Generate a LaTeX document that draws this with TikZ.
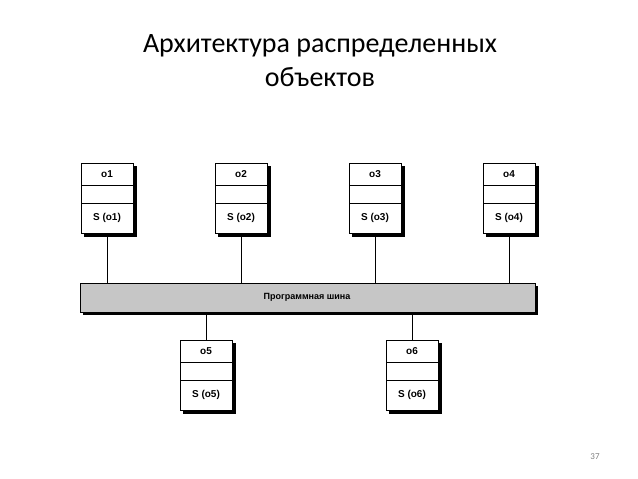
\documentclass[tikz,border=0pt]{standalone}
\usepackage{fontspec}
\setmainfont{Carlito}
\newfontfamily\lab{Liberation Sans}
\begin{document}
\begin{tikzpicture}[x=1pt,y=-1pt,
  obox/.style={draw,line width=1pt,fill=white,minimum width=52pt,minimum height=70pt,inner sep=0pt},
  conn/.style={line width=0.8pt}]
\useasboundingbox (0,0) rectangle (638,479);
\node[font=\fontsize{28}{34}\selectfont,align=center] (title) at (320,61) {Архитектура распределенных\\объектов};
\node[font=\fontsize{9}{10}\selectfont,text=gray] (pn) at (595,457) {37};
% bus
\fill[black] (83,286) rectangle (538,315);
\node[draw,line width=1pt,fill=gray!45,minimum width=455pt,minimum height=29pt,inner sep=0pt] (bus) at (307.5,297.5) {};
\node[font=\lab\bfseries\fontsize{9}{10}\selectfont] (buslab) at (307,297) {Программная шина};
\foreach \n/\x/\y in {1/107/198,2/241/198,3/375/198,4/509/198,5/206/375,6/412/375}{
  \fill[black] (\x-23,\y-32) rectangle (\x+30,\y+39);
  \node[obox] (o\n) at (\x,\y) {};
  \draw[line width=0.8pt] (\x-26,\y-13) -- (\x+26,\y-13) (\x-26,\y+5) -- (\x+26,\y+5);
  \node[font=\lab\bfseries\fontsize{10}{11}\selectfont] (t\n) at (\x,\y-24) {o\n};
  \node[font=\lab\bfseries\fontsize{10}{11}\selectfont] (s\n) at (\x,\y+20) {S (o\n)};
}
\foreach \n in {1,2,3,4}{\draw[conn] (o\n.south) -- (o\n.south |- bus.north);}
\foreach \n in {5,6}{\draw[conn] (o\n.north) -- (o\n.north |- bus.south);}
\end{tikzpicture}
\end{document}
